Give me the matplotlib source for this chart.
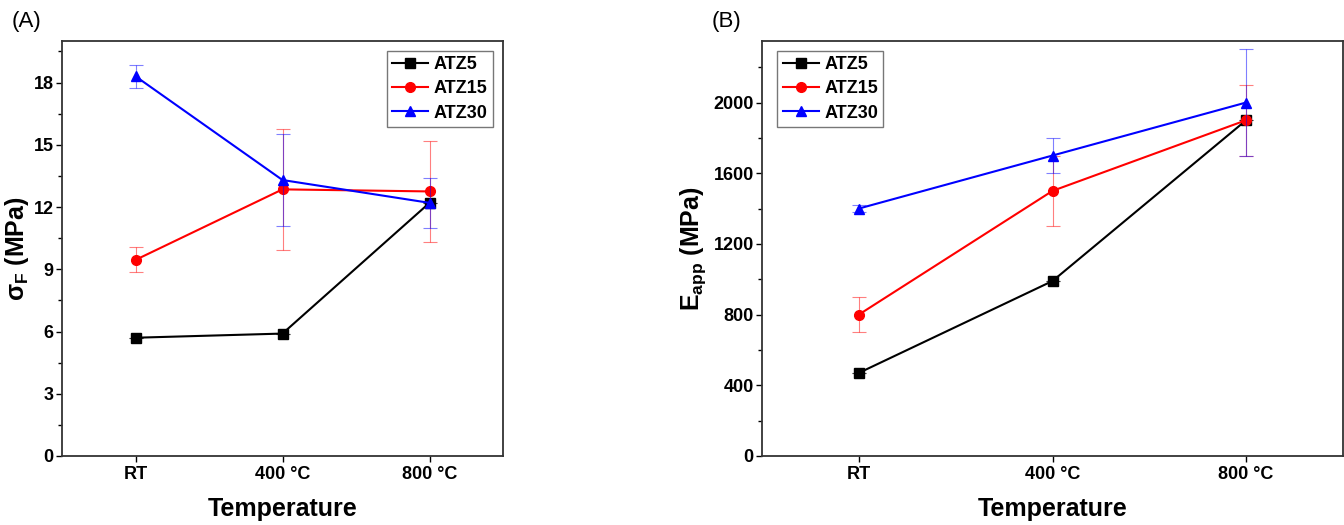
import matplotlib
matplotlib.use('Agg')
import matplotlib.pyplot as plt
from matplotlib.ticker import MultipleLocator

plt.rcParams['font.family'] = ['Liberation Sans', 'DejaVu Sans']
plt.rcParams['mathtext.fontset'] = 'custom'
plt.rcParams['mathtext.rm'] = 'Liberation Sans:bold'
plt.rcParams['mathtext.default'] = 'rm'

# Data
temps = ['RT', '400 °C', '800 °C']
series = ['ATZ5', 'ATZ15', 'ATZ30']
colors = ['black', 'red', 'blue']
markers = ['s', 'o', '^']

# (A) flexural strength
sigma_atz5 = [5.7, 5.9, 12.2]
sigma_atz15 = [9.45, 12.85, 12.75]
sigma_atz30 = [18.3, 13.3, 12.2]
sigma_err_atz5 = [0, 0, 0]
sigma_err_atz15 = [0.6, 2.9, 2.45]
sigma_err_atz30 = [0.55, 2.2, 1.2]

# (B) apparent modulus
e_atz5 = [470, 990, 1900]
e_atz15 = [800, 1500, 1900]
e_atz30 = [1400, 1700, 2000]
e_err_atz5 = [0, 0, 0]
e_err_atz15 = [100, 200, 200]
e_err_atz30 = [20, 100, 300]

fig = plt.figure(figsize=(13.44, 5.25), dpi=100)
ax1 = fig.add_axes([62 / 1344, 1 - 456 / 525, 441 / 1344, 415 / 525])
ax2 = fig.add_axes([762 / 1344, 1 - 456 / 525, 581 / 1344, 415 / 525])

x = list(range(len(temps)))


def draw(ax, vals, errs, loc, anchor):
    for v, e, c, m, name in zip(vals, errs, colors, markers, series):
        ax.errorbar(x, v, yerr=e, color=c, ecolor=c, elinewidth=0.8, capsize=5,
                    capthick=0.8, fmt='none', alpha=0.5)
        ax.plot(x, v, color=c, marker=m, markersize=7, lw=1.5, label=name)
    ax.set_xticks(x)
    ax.set_xticklabels(temps)
    ax.set_xlim(-0.5, 2.5)
    ax.tick_params(axis='both', which='major', labelsize=13, length=4, width=1, pad=3)
    ax.tick_params(axis='y', which='major', pad=2)
    ax.tick_params(axis='y', which='minor', length=3, width=1)
    for lab in ax.get_xticklabels() + ax.get_yticklabels():
        lab.set_fontweight('bold')
    for s in ax.spines.values():
        s.set_linewidth(1.3)
        s.set_color('#333333')
    ax.set_xlabel('Temperature', fontsize=18, fontweight='bold', labelpad=10)
    leg = ax.legend(loc=loc, bbox_to_anchor=anchor, prop={'weight': 'bold', 'size': 13},
                    fancybox=False, edgecolor='#555555', handlelength=2.0, borderpad=0.3,
                    labelspacing=0.4, handletextpad=0.3, borderaxespad=0.2)
    leg.get_frame().set_linewidth(1.0)


draw(ax1, [sigma_atz5, sigma_atz15, sigma_atz30], [sigma_err_atz5, sigma_err_atz15, sigma_err_atz30],
     'upper right', (0.985, 0.985))
ax1.set_ylim(0, 20)
ax1.yaxis.set_major_locator(MultipleLocator(3))
ax1.yaxis.set_minor_locator(MultipleLocator(1.5))
ax1.set_ylabel('σ$_{F}$ (MPa)', fontsize=18, fontweight='bold', labelpad=2)

draw(ax2, [e_atz5, e_atz15, e_atz30], [e_err_atz5, e_err_atz15, e_err_atz30],
     'upper left', (0.02, 0.985))
ax2.set_ylim(0, 2348)
ax2.yaxis.set_major_locator(MultipleLocator(400))
ax2.yaxis.set_minor_locator(MultipleLocator(200))
ax2.set_ylabel('E$_{app}$ (MPa)', fontsize=18, fontweight='bold', labelpad=4)

fig.text(12 / 1344, 1 - 22 / 525, '(A)', fontsize=16, va='center', ha='left')
fig.text(712 / 1344, 1 - 22 / 525, '(B)', fontsize=16, va='center', ha='left')

fig.savefig('out.png', dpi=100)
